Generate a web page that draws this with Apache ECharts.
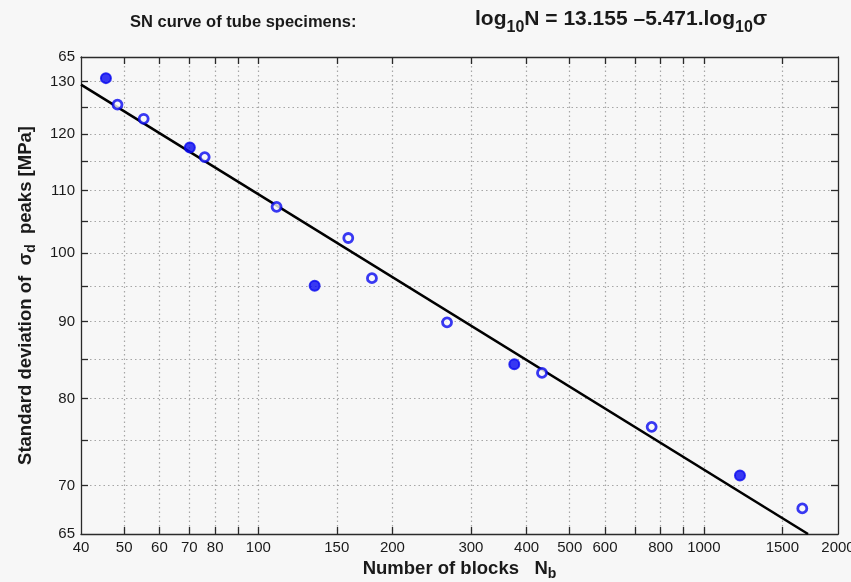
<!DOCTYPE html>
<html><head><meta charset="utf-8">
<script src="https://cdn.jsdelivr.net/npm/echarts@6/dist/echarts.min.js"></script>
<style>html,body{margin:0;padding:0;background:#f7f7f7}#c{width:851px;height:582px}</style>
</head><body><div id="c"></div><script>
// Data (log-log SN curve)
const openBlocks = [48.3, 55.3, 75.8, 109.9, 159.2, 179.9, 265.2, 433.2, 763.5, 1663];
const openStress = [125.5, 122.8, 115.8, 107.3, 102.3, 96.2, 89.9, 83.2, 76.6, 67.6];
const boldBlocks = [45.5, 70.2, 133.8, 375.4, 1205];
const boldStress = [130.7, 117.5, 95.1, 84.3, 71.1];
const fitBlocks = [40, 1713];
const fitStress = [129.4, 65];
const xTickValues = [50, 60, 70, 80, 90, 100, 150, 200, 300, 400, 500, 600, 700, 800, 900, 1000, 1500];
const xLabelValues = [40, 50, 60, 70, 80, 100, 150, 200, 300, 400, 500, 600, 800, 1000, 1500, 2000];
const yTickValues = [70, 75, 80, 85, 90, 95, 100, 105, 110, 115, 120, 125, 130];
const yLabelValues = [65, 70, 80, 90, 100, 110, 120, 130, 135];
const yLabelTexts = ['65', '70', '80', '90', '100', '110', '120', '130', '65'];
const xRange = [40, 2000];
const yRange = [65, 135];

const L = Math.log10;
const pairs = (xs, ys) => xs.map((x, i) => [L(x), L(ys[i])]);
function nearestLabel(v, vals, texts) {
  let best = 0, bd = Infinity;
  vals.forEach((u, i) => { const d = Math.abs(L(u) - v); if (d < bd) { bd = d; best = i; } });
  return texts[best];
}
const FONT = "'Liberation Sans', Arial, Helvetica, sans-serif";
const TXT = '#1a1a1a';
const AX = '#2a2a2a';
const BLUE = '#0808f0';

const dotted = { show: true, lineStyle: { color: '#a6a6a6', width: 1.2, type: [1.5, 3] } };
const axLine = { show: true, onZero: false, lineStyle: { color: AX, width: 1.3 } };
const tick = vals => ({ show: true, inside: true, length: 7, customValues: vals.map(L), lineStyle: { color: AX, width: 1.3 } });

const chart = echarts.init(document.getElementById('c'), null, { renderer: 'canvas' });
chart.setOption({
  backgroundColor: '#f7f7f7',
  animation: false,
  grid: { left: 81, right: 13, top: 57, bottom: 48, outerBoundsMode: 'none', containLabel: false },
  graphic: [{
    type: 'text', left: 130, top: 7, z: 10,
    style: {
      text: 'SN curve of tube specimens:',
      font: 'bold 16.5px ' + FONT, fill: TXT, lineHeight: 30
    }
  }, {
    type: 'text', left: 475, top: 9, z: 10,
    style: {
      text: '{a|log}{s|10}{a|N = 13.155 –5.471.log}{s|10}{a|σ}',
      rich: {
        a: { fontFamily: FONT, fontWeight: 'bold', fontSize: 21, lineHeight: 32, fill: TXT },
        s: { fontFamily: FONT, fontWeight: 'bold', fontSize: 16, lineHeight: 15, verticalAlign: 'bottom', fill: TXT }
      }
    }
  }],
  xAxis: [{
    type: 'value', min: L(xRange[0]), max: L(xRange[1]), position: 'bottom',
    axisLine: axLine, axisTick: tick(xTickValues), splitLine: dotted,
    axisLabel: {
      show: true, margin: 6, customValues: xLabelValues.map(L), hideOverlap: false,
      fontFamily: FONT, fontSize: 15, color: TXT,
      formatter: v => nearestLabel(v, xLabelValues, xLabelValues.map(String))
    },
    name: '{a|Number of blocks   N}{s|b}', nameLocation: 'middle', nameGap: 23,
    nameTextStyle: {
      rich: {
        a: { fontFamily: FONT, fontWeight: 'bold', fontSize: 18.5, lineHeight: 24, color: TXT },
        s: { fontFamily: FONT, fontWeight: 'bold', fontSize: 14, lineHeight: 13, verticalAlign: 'bottom', color: TXT }
      }
    }
  }, {
    type: 'value', min: L(xRange[0]), max: L(xRange[1]), position: 'top',
    axisLine: axLine, axisTick: tick(xTickValues),
    splitLine: { show: false }, axisLabel: { show: false }
  }],
  yAxis: [{
    type: 'value', min: L(yRange[0]), max: L(yRange[1]), position: 'left',
    axisLine: axLine, axisTick: tick(yTickValues), splitLine: dotted,
    axisLabel: {
      show: true, margin: 6, customValues: yLabelValues.map(L), hideOverlap: false,
      fontFamily: FONT, fontSize: 15, color: TXT,
      formatter: v => nearestLabel(v, yLabelValues, yLabelTexts)
    },
    name: '{a|Standard deviation of  σ}{s|d}{a|  peaks [MPa]}', nameLocation: 'middle', nameGap: 43, nameRotate: 90,
    nameTextStyle: {
      rich: {
        a: { fontFamily: FONT, fontWeight: 'bold', fontSize: 18.5, lineHeight: 24, color: TXT },
        s: { fontFamily: FONT, fontWeight: 'bold', fontSize: 14, lineHeight: 13, verticalAlign: 'bottom', color: TXT }
      }
    }
  }, {
    type: 'value', min: L(yRange[0]), max: L(yRange[1]), position: 'right',
    axisLine: axLine, axisTick: tick(yTickValues),
    splitLine: { show: false }, axisLabel: { show: false }
  }],
  series: [{
    type: 'line', name: 'fit', data: pairs(fitBlocks, fitStress), xAxisIndex: 0, yAxisIndex: 0,
    showSymbol: false, symbol: 'none', clip: true,
    lineStyle: { color: '#000', width: 2.6 }, z: 2
  }, {
    type: 'scatter', name: 'open', data: pairs(openBlocks, openStress), xAxisIndex: 0, yAxisIndex: 0,
    symbol: 'circle', symbolSize: 9,
    itemStyle: { color: '#f7f7f7', borderColor: BLUE, borderWidth: 2.8 }, z: 3
  }, {
    type: 'scatter', name: 'bold', data: pairs(boldBlocks, boldStress), xAxisIndex: 0, yAxisIndex: 0,
    symbol: 'circle', symbolSize: 10,
    itemStyle: { color: BLUE, borderColor: BLUE, borderWidth: 2 }, z: 3
  }]
});
</script></body></html>
